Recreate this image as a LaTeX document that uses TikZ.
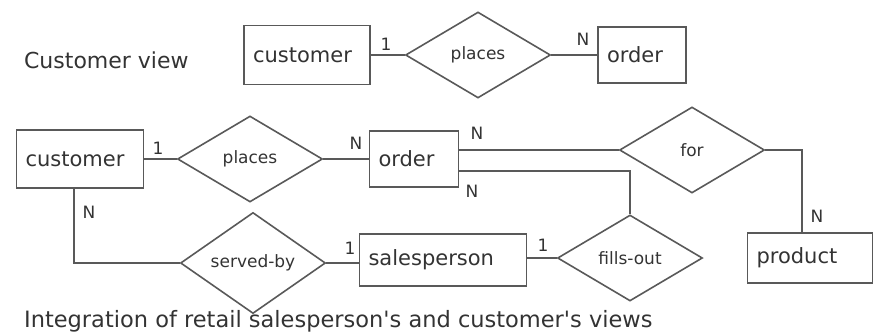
\documentclass[tikz,border=0pt]{standalone}
\usepackage{fontspec}
\setmainfont{DejaVu Sans}
\usetikzlibrary{shapes.geometric}
\begin{document}
\begin{tikzpicture}[x=1pt, y=-1pt, line width=1.6pt,
		every node/.style={text=black!80, font=\fontsize{21}{25}\selectfont},
		entity/.style={rectangle, draw=black!65, align=left, inner xsep=9pt, inner ysep=0pt},
		rel/.style={diamond, draw=black!65, minimum width=145pt, minimum height=86pt, inner sep=0pt, font=\fontsize{17}{20}\selectfont},
		card/.style={inner sep=0pt, font=\fontsize{17}{20}\selectfont},
		link/.style={draw=black!65}]
		\useasboundingbox (0,0) rectangle (874,334);
		% customer view
		\node[anchor=west] (view1) at (20,60) {\fontsize{22}{26}\selectfont Customer view};
		\node[entity, text width=108pt, minimum height=59pt] (cust1) at (307,55) {customer};
		\node[rel] (places1) at (478,55) {places};
		\node[entity, text width=70pt, minimum height=56pt] (order1) at (642,55) {order};
		\node[card] (c1) at (386,44) {1};
		\node[card] (c2) at (583,39) {N};
		\draw[link] (cust1.east) -- (places1.west);
		\draw[link] (places1.east) -- (order1.west);
		% integrated view
		\node[entity, text width=109pt, minimum height=58pt] (cust2) at (80,159) {customer};
		\node[rel] (places2) at (250,159) {places};
		\node[entity, text width=71pt, minimum height=56pt] (order2) at (414,159) {order};
		\node[rel] (for) at (692,150) {for};
		\node[entity, text width=107pt, minimum height=50pt] (product) at (810,258) {product};
		\node[rel] (fills) at (630,258) {fills-out};
		\node[entity, text width=149pt, minimum height=52pt] (sales) at (443,260) {salesperson};
		\node[rel, minimum height=84pt] (served) at (253,263) {served-by};
		\node[card] (c3) at (158,148) {1};
		\node[card] (c4) at (356,143) {N};
		\node[card] (c5) at (477,133) {N};
		\node[card] (c6) at (472,191) {N};
		\node[card] (c7) at (89,212) {N};
		\node[card] (c8) at (350,248) {1};
		\node[card] (c9) at (543,245) {1};
		\node[card] (c10) at (817,216) {N};
		\draw[link] (cust2.east) -- (places2.west);
		\draw[link] (places2.east) -- (order2.west);
		\draw[link] (for.west) -- (for.west -| order2.east);
		\draw[link] (for.east) -| ([xshift=-8pt]product.north);
		\draw[link] ([yshift=-12pt]order2.east) -| (fills.north);
		\draw[link] (fills.west) -- (fills.west -| sales.east);
		\draw[link] (served.east) -- (served.east -| sales.west);
		\draw[link] ([xshift=-6pt]cust2.south) |- (served.west);
		\node[anchor=west] (caption) at (20,321) {\fontsize{22.5}{26}\selectfont Integration of retail salesperson\textquotesingle s and customer\textquotesingle s views};
	\end{tikzpicture}
\end{document}
